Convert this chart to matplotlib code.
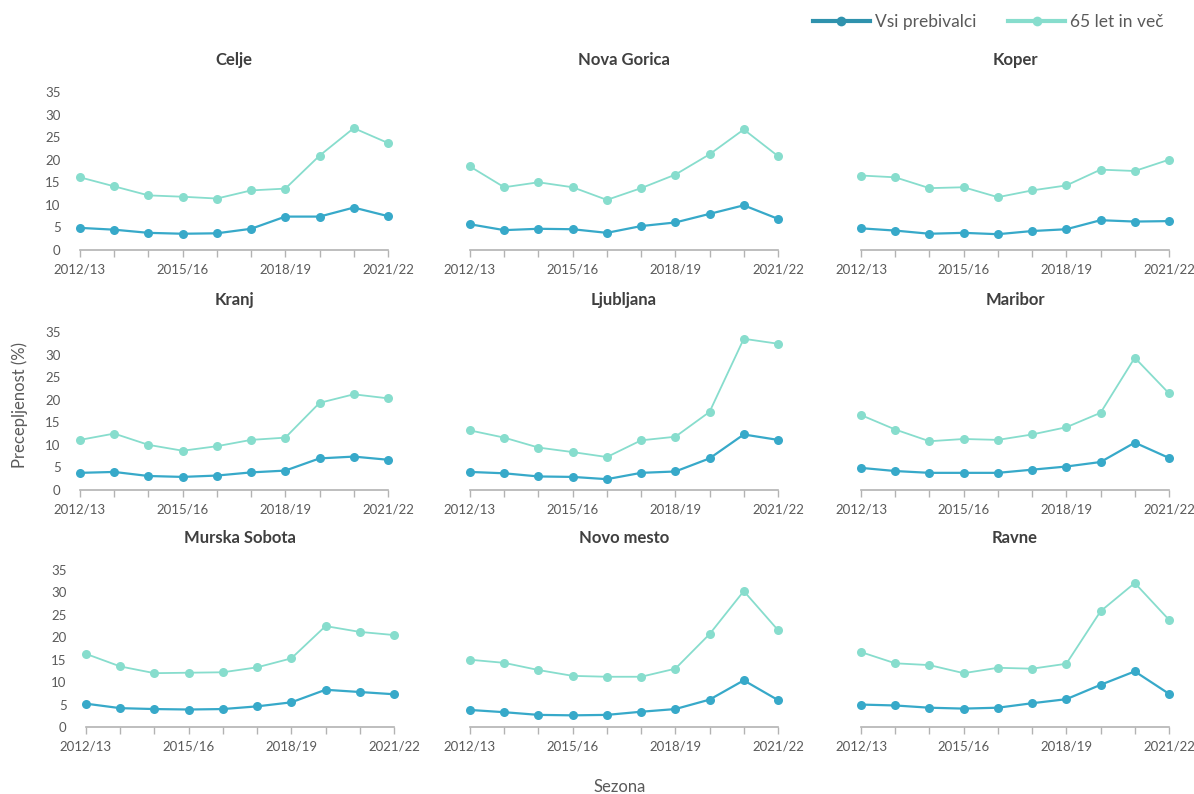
import matplotlib
matplotlib.use("Agg")
import matplotlib.pyplot as plt
from matplotlib.lines import Line2D

plt.rcParams['font.family'] = ['Lato', 'DejaVu Sans']

seasons = ["2012/13", "2013/14", "2014/15", "2015/16", "2016/17",
           "2017/18", "2018/19", "2019/20", "2020/21", "2021/22"]
shown_ticks = ["2012/13", "2015/16", "2018/19", "2021/22"]

regions = ["Celje", "Nova Gorica", "Koper",
           "Kranj", "Ljubljana", "Maribor",
           "Murska Sobota", "Novo mesto", "Ravne"]

# Vaccination coverage (%), all residents
all_residents = {
    "Celje":         [4.9, 4.5, 3.8, 3.6, 3.7, 4.7, 7.4, 7.4, 9.4, 7.5],
    "Nova Gorica":   [5.7, 4.4, 4.7, 4.6, 3.8, 5.3, 6.1, 8.0, 9.9, 6.9],
    "Koper":         [4.8, 4.3, 3.6, 3.8, 3.5, 4.2, 4.6, 6.6, 6.3, 6.4],
    "Kranj":         [3.8, 4.0, 3.1, 2.9, 3.2, 3.9, 4.3, 7.0, 7.4, 6.7],
    "Ljubljana":     [4.0, 3.7, 3.0, 2.9, 2.4, 3.8, 4.1, 7.0, 12.3, 11.1],
    "Maribor":       [4.9, 4.2, 3.8, 3.8, 3.8, 4.5, 5.2, 6.2, 10.5, 7.1],
    "Murska Sobota": [5.2, 4.2, 4.0, 3.9, 4.0, 4.6, 5.5, 8.3, 7.8, 7.3],
    "Novo mesto":    [3.8, 3.3, 2.7, 2.6, 2.7, 3.4, 4.0, 6.1, 10.4, 6.0],
    "Ravne":         [5.0, 4.8, 4.3, 4.1, 4.3, 5.3, 6.2, 9.4, 12.4, 7.4],
}

# Vaccination coverage (%), residents aged 65 and over
aged_65_plus = {
    "Celje":         [16.1, 14.1, 12.1, 11.8, 11.4, 13.2, 13.6, 20.9, 27.0, 23.7],
    "Nova Gorica":   [18.5, 13.9, 15.0, 13.9, 11.1, 13.7, 16.7, 21.2, 26.7, 20.8],
    "Koper":         [16.5, 16.1, 13.7, 13.9, 11.7, 13.2, 14.3, 17.8, 17.5, 20.0],
    "Kranj":         [11.1, 12.5, 10.0, 8.7, 9.7, 11.1, 11.6, 19.3, 21.2, 20.3],
    "Ljubljana":     [13.2, 11.6, 9.4, 8.4, 7.3, 11.0, 11.8, 17.3, 33.5, 32.4],
    "Maribor":       [16.6, 13.4, 10.8, 11.3, 11.1, 12.3, 13.9, 17.1, 29.3, 21.4],
    "Murska Sobota": [16.3, 13.5, 12.0, 12.1, 12.2, 13.3, 15.3, 22.5, 21.2, 20.5],
    "Novo mesto":    [15.0, 14.3, 12.7, 11.4, 11.2, 11.2, 13.0, 20.7, 30.3, 21.6],
    "Ravne":         [16.7, 14.2, 13.8, 12.0, 13.2, 13.0, 14.1, 25.8, 32.1, 23.9],
}

legend_labels = ["Vsi prebivalci", "65 let in več"]
y_ticks = [0, 5, 10, 15, 20, 25, 30, 35]

BLUE = "#37a9c9"
BLUE_DARK = "#2f92ad"
TEAL = "#87ddcd"
TEXT = "#5a5a5a"
TITLE = "#3f3f3f"
AXIS = "#b3b3b3"

W, H = 1194, 794
fig = plt.figure(figsize=(W / 100, H / 100), dpi=100)

col_left = [80, 470, 861]
row_top = [92, 332, 570]
row_bottom = [250, 490, 727]
ax_w = 308

x = list(range(len(seasons)))

for i, name in enumerate(regions):
    r, c = divmod(i, 3)
    left = col_left[c] + (6 if (r == 2 and c == 0) else 0)
    top, bot = row_top[r], row_bottom[r]
    ax = fig.add_axes([left / W, 1 - bot / H, ax_w / W, (bot - top) / H])

    ax.plot(x, aged_65_plus[name], color=TEAL, lw=1.3, marker='o', ms=6.5,
            markeredgewidth=0, clip_on=False, zorder=3)
    ax.plot(x, all_residents[name], color=BLUE, lw=1.6, marker='o', ms=6.5,
            markeredgewidth=0, clip_on=False, zorder=4)

    ax.set_xlim(0, len(seasons) - 1)
    ax.set_ylim(0, 35)
    ax.set_xticks(x)
    ax.set_xticklabels([s if s in shown_ticks else "" for s in seasons])
    ax.tick_params(axis='x', length=5, width=1, color=AXIS, pad=5,
                   labelsize=9.5, labelcolor=TEXT)
    ax.set_yticks(y_ticks)
    if c == 0:
        ax.set_yticklabels([str(v) for v in y_ticks])
    else:
        ax.set_yticklabels([])
    ax.tick_params(axis='y', length=0, pad=14, labelsize=9.5, labelcolor=TEXT)

    for s in ("top", "right", "left"):
        ax.spines[s].set_visible(False)
    ax.spines["bottom"].set_color(AXIS)
    ax.spines["bottom"].set_linewidth(1.2)
    ax.patch.set_alpha(0)

    ax.text(0.5, 1 + 32 / (bot - top), name, transform=ax.transAxes,
            ha='center', va='center', fontsize=12, fontweight='bold',
            color=TITLE)

handles = [
    Line2D([], [], color=BLUE_DARK, lw=3, marker='o', ms=7, markeredgewidth=0),
    Line2D([], [], color=TEAL, lw=3, marker='o', ms=7, markeredgewidth=0),
]
fig.legend(handles, legend_labels, loc='center right',
           bbox_to_anchor=(1164 / W, 1 - 22 / H), ncol=2, frameon=False,
           fontsize=12.5, handlelength=3.3, handletextpad=0.3,
           columnspacing=1.8, borderpad=0, borderaxespad=0,
           labelcolor=TEXT)

fig.text(20 / W, 1 - 405 / H, "Precepljenost (%)", rotation=90,
         ha='center', va='center', fontsize=12, color=TEXT)
fig.text(620 / W, 1 - 787 / H, "Sezona", ha='center', va='center',
         fontsize=12, color=TEXT)

fig.savefig("out.png", dpi=100, facecolor="white")
